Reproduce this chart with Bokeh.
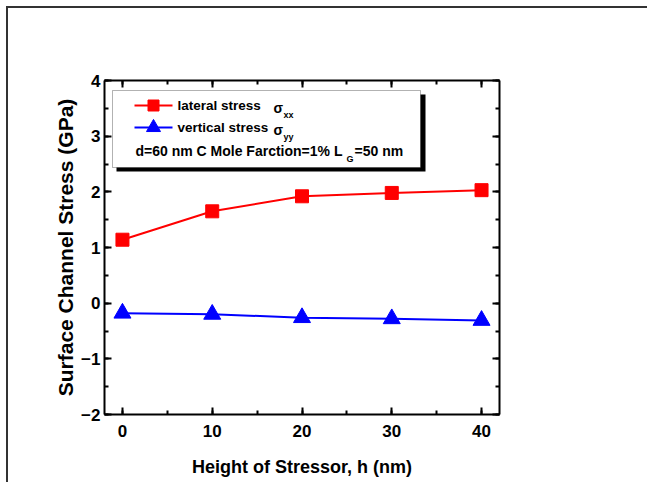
from bokeh.plotting import figure
from bokeh.models import (Range1d, LinearAxis, SingleIntervalTicker, BoxAnnotation,
                          Label, CustomJSTickFormatter, ColumnDataSource,
                          GlobalInlineStyleSheet)
from bokeh.embed import file_html
from bokeh.resources import INLINE

# Stress in the channel surface versus stressor height
height_nm = [0, 10, 20, 30, 40]
lateral_stress = [1.14, 1.65, 1.92, 1.98, 2.03]      # sigma_xx (GPa)
vertical_stress = [-0.18, -0.20, -0.26, -0.28, -0.31]  # sigma_yy (GPa)

x_title = "Height of Stressor, h (nm)"
y_title = "Surface Channel Stress (GPa)"

FONT = "Liberation Sans"

W, H = 647, 482
FL, FR, FT, FB = 104, 499, 80, 414   # frame edges on the canvas

p = figure(width=W, height=H, x_range=Range1d(-2, 42), y_range=Range1d(-2, 4),
           output_backend="svg", toolbar_location=None,
           min_border_left=FL, min_border_right=W - FR,
           min_border_top=FT, min_border_bottom=H - FB)
p.grid.visible = False
p.outline_line_color = None
p.background_fill_color = "white"
p.border_fill_color = "white"

# sheet frame line along the top and left edges of the page
p.stylesheets = [GlobalInlineStyleSheet(css="""
html, body { overflow: hidden !important; margin: 0; }
body::after {
  content: "";
  position: fixed;
  left: 6px;
  top: 6px;
  width: 700px;
  height: 540px;
  border-left: 2px solid #333333;
  border-top: 2px solid #333333;
  pointer-events: none;
  z-index: 1000;
}
""")]

xticker = SingleIntervalTicker(interval=10, num_minor_ticks=2)
yticker = SingleIntervalTicker(interval=1, num_minor_ticks=2)


def style_axis(ax, ticker):
    ax.ticker = ticker
    ax.axis_line_width = 2
    ax.axis_line_color = "black"
    ax.major_tick_in = 7
    ax.major_tick_out = 0
    ax.minor_tick_in = 4
    ax.minor_tick_out = 0
    ax.major_tick_line_width = 2
    ax.minor_tick_line_width = 2
    ax.major_tick_line_color = "black"
    ax.minor_tick_line_color = "black"
    ax.major_label_text_font = FONT
    ax.major_label_text_font_style = "bold"
    ax.major_label_text_font_size = "17px"
    ax.major_label_text_color = "black"
    ax.axis_label_text_font = FONT
    ax.axis_label_text_font_style = "bold"
    ax.axis_label_text_color = "black"


xa = p.xaxis[0]
style_axis(xa, xticker)
xa.axis_label = x_title
xa.axis_label_text_font_size = "18px"
xa.major_label_standoff = 10
xa.axis_label_standoff = 17

ya = p.yaxis[0]
style_axis(ya, yticker)
ya.axis_label = y_title
ya.axis_label_text_font_size = "21px"
ya.major_label_standoff = 4
ya.axis_label_standoff = 1

blank = CustomJSTickFormatter(code="return ''")
top_ax = LinearAxis(formatter=blank)
style_axis(top_ax, xticker)
p.add_layout(top_ax, "above")
right_ax = LinearAxis(formatter=blank)
style_axis(right_ax, yticker)
p.add_layout(right_ax, "right")

# data series
src = ColumnDataSource(dict(h=height_nm, sxx=lateral_stress, syy=vertical_stress))
p.line("h", "sxx", source=src, line_color="#ff0000", line_width=2)
p.scatter("h", "sxx", source=src, marker="square", size=13,
          fill_color="#ff0000", line_color="#ff0000")
p.line("h", "syy", source=src, line_color="#0000ff", line_width=2)
p.scatter("h", "syy", source=src, marker="triangle", size=17,
          fill_color="#0000ff", line_color="#0000ff")


# helpers: canvas pixel -> frame-relative screen units / data units
def sx(px):
    return px - FL


def sy(py):
    return FB - py


def dx(px):
    return -2 + (px - FL) * 44.0 / (FR - FL)


def dy(py):
    return 4 - (py - FT) * 6.0 / (FB - FT)


# legend: shadow, box, samples and texts
p.add_layout(BoxAnnotation(left=sx(116), right=sx(425), top=sy(94), bottom=sy(171),
                           left_units="screen", right_units="screen",
                           top_units="screen", bottom_units="screen",
                           fill_color="black", fill_alpha=1, line_color=None))
p.add_layout(BoxAnnotation(left=sx(112), right=sx(420), top=sy(90), bottom=sy(167),
                           left_units="screen", right_units="screen",
                           top_units="screen", bottom_units="screen",
                           fill_color="white", fill_alpha=1, line_color="black",
                           line_width=1))

r = p.line([dx(134), dx(172)], [dy(105), dy(105)], line_color="#ff0000", line_width=2)
r.level = "overlay"
r = p.scatter([dx(153)], [dy(105)], marker="square", size=11,
              fill_color="#ff0000", line_color="#ff0000")
r.level = "overlay"
r = p.line([dx(134), dx(172)], [dy(127), dy(127)], line_color="#0000ff", line_width=2)
r.level = "overlay"
r = p.scatter([dx(153)], [dy(127)], marker="triangle", size=14,
              fill_color="#0000ff", line_color="#0000ff")
r.level = "overlay"


def add_text(px, py, txt, size="14px"):
    p.add_layout(Label(x=sx(px), y=sy(py), x_units="screen", y_units="screen",
                       text=txt, text_font=FONT, text_font_style="bold",
                       text_font_size=size, text_color="black",
                       text_align="left", text_baseline="middle"))


add_text(177, 105, "lateral stress", "13.5px")
add_text(273, 107, "\u03c3")
add_text(283, 114, "xx", "9px")
add_text(177, 127, "vertical stress", "13.5px")
add_text(273, 129, "\u03c3")
add_text(283, 136, "yy", "9px")
add_text(135, 150, "d=60 nm C Mole Farction=1% L")
add_text(346, 158, "G", "9px")
add_text(354, 150, "=50 nm")

open("out.html", "w").write(file_html(p, INLINE))
